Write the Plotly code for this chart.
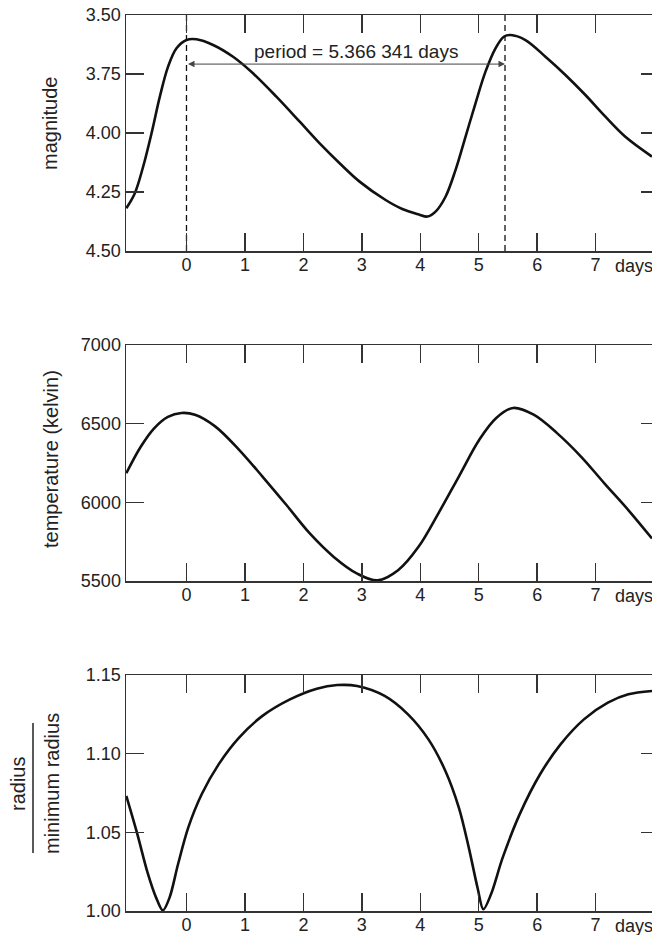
import plotly.graph_objects as go

# ---------------- data ----------------
MAG_DAYS = [-1.03, -0.884, -0.742, -0.598, -0.456, -0.315, -0.171, 0.0, 0.171, 0.455,
            0.797, 1.138, 1.538, 1.937, 2.279, 2.620, 2.962, 3.407, 3.692, 3.976,
            4.12, 4.262, 4.432, 4.603, 4.774, 4.945, 5.116, 5.287, 5.43, 5.544,
            5.80, 6.142, 6.484, 6.826, 7.168, 7.509, 7.965]
MAG_VALUES = [4.319, 4.255, 4.143, 4.001, 3.846, 3.719, 3.641, 3.606, 3.603, 3.627,
              3.677, 3.747, 3.846, 3.952, 4.044, 4.128, 4.206, 4.284, 4.322, 4.345,
              4.354, 4.333, 4.270, 4.157, 4.016, 3.874, 3.740, 3.641, 3.592, 3.585,
              3.606, 3.677, 3.754, 3.839, 3.931, 4.016, 4.100]

TEMP_DAYS = [-1.03, -0.78, -0.55, -0.318, -0.087, 0.145, 0.49, 0.90, 1.30, 1.71,
             2.11, 2.52, 2.92, 3.27, 3.62, 3.97, 4.31, 4.66, 5.01, 5.30,
             5.59, 5.94, 6.34, 6.75, 7.15, 7.56, 7.965]
TEMP_VALUES = [6185, 6355, 6472, 6543, 6568, 6557, 6483, 6334, 6164, 5983,
               5802, 5653, 5547, 5504, 5568, 5717, 5930, 6164, 6398, 6536,
               6600, 6557, 6440, 6291, 6121, 5951, 5770]

RAD_DAYS = [-1.03, -0.84, -0.666, -0.52, -0.405, -0.29, -0.145, 0.03, 0.26, 0.55,
            0.90, 1.30, 1.77, 2.23, 2.58, 2.92, 3.39, 3.79, 4.14, 4.43,
            4.66, 4.83, 4.98, 5.08, 5.21, 5.41, 5.70, 6.05, 6.40, 6.80,
            7.21, 7.56, 7.965]
RAD_VALUES = [1.0731, 1.0487, 1.0244, 1.0085, 1.0004, 1.0085, 1.0297, 1.053, 1.0742, 1.0932,
              1.1102, 1.124, 1.1345, 1.1413, 1.1436, 1.143, 1.1367, 1.125, 1.1091, 1.089,
              1.0657, 1.0403, 1.0148, 1.0011, 1.0106, 1.0339, 1.0614, 1.0869, 1.1059, 1.1218,
              1.1324, 1.1377, 1.1398]

DAY_TICKS = [0, 1, 2, 3, 4, 5, 6, 7]
DAY_TICK_LABELS = ["0", "1", "2", "3", "4", "5", "6", "7"]
DAY_RANGE = [-1.035, 7.965]

MAG_TICKS = [3.50, 3.75, 4.00, 4.25, 4.50]
MAG_TICK_LABELS = ["3.50", "3.75", "4.00", "4.25", "4.50"]
TEMP_TICKS = [5500, 6000, 6500, 7000]
TEMP_TICK_LABELS = ["5500", "6000", "6500", "7000"]
RAD_TICKS = [1.00, 1.05, 1.10, 1.15]
RAD_TICK_LABELS = ["1.00", "1.05", "1.10", "1.15"]

PERIOD_MARKS = [0.0, 5.45]
PERIOD_ARROW_LEVEL = 3.708
PERIOD_LABEL = "period = 5.366 341 days"

# ---------------- styling ----------------
FONT = "Liberation Sans, Arial, Helvetica, sans-serif"
TXT = "#222222"
AX = "#333333"
CURVE = "#111111"

W, H = 652, 935
ML, MR, MT, MB = 126, 0, 15, 24
PH = H - MT - MB
PANEL = 236
GAP = 94

def dom(i):
    top = MT + i * (PANEL + GAP)
    bot = top + PANEL
    return [(H - MB - bot) / PH, (H - MB - top) / PH]

fig = go.Figure()

fig.add_trace(go.Scatter(x=MAG_DAYS, y=MAG_VALUES, mode="lines",
                         line=dict(color=CURVE, width=2.6, shape="spline", smoothing=1.0),
                         xaxis="x", yaxis="y", hoverinfo="skip"))
for d in PERIOD_MARKS:
    fig.add_trace(go.Scatter(x=[d, d], y=[MAG_TICKS[0], MAG_TICKS[-1]], mode="lines",
                             line=dict(color=CURVE, width=1.3, dash="6px,4px"),
                             xaxis="x", yaxis="y", hoverinfo="skip"))
fig.add_trace(go.Scatter(x=TEMP_DAYS, y=TEMP_VALUES, mode="lines",
                         line=dict(color=CURVE, width=2.6, shape="spline", smoothing=1.0),
                         xaxis="x2", yaxis="y2", hoverinfo="skip"))
fig.add_trace(go.Scatter(x=RAD_DAYS, y=RAD_VALUES, mode="lines",
                         line=dict(color=CURVE, width=2.6, shape="spline", smoothing=0.9),
                         xaxis="x3", yaxis="y3", hoverinfo="skip"))

# invisible traces to activate right-hand tick axes
for ya, xa, yv in (("y4", "x", MAG_TICKS[0]), ("y5", "x2", TEMP_TICKS[0]), ("y6", "x3", RAD_TICKS[0])):
    fig.add_trace(go.Scatter(x=[DAY_TICKS[0]], y=[yv], mode="markers", marker=dict(opacity=0),
                             xaxis=xa, yaxis=ya, hoverinfo="skip"))

xcommon = dict(range=DAY_RANGE, tickvals=DAY_TICKS, ticktext=DAY_TICK_LABELS,
               ticks="inside", ticklen=18, tickwidth=1.5, tickcolor=AX,
               showline=True, linecolor=AX, linewidth=1.5, mirror="ticks",
               showgrid=False, zeroline=False, ticklabelstandoff=-3,
               tickfont=dict(family=FONT, size=18, color=TXT))
ycommon = dict(ticks="inside", ticklen=18, tickwidth=1.5, tickcolor=AX,
               showline=True, linecolor=AX, linewidth=1.5,
               showgrid=False, zeroline=False,
               tickfont=dict(family=FONT, size=18, color=TXT))
yright = dict(side="right", ticks="inside", ticklen=11, tickwidth=1.5, tickcolor=AX,
              showline=False, showticklabels=False, showgrid=False, zeroline=False)

fig.update_layout(
    width=W, height=H,
    margin=dict(l=ML, r=MR, t=MT, b=MB, pad=0),
    paper_bgcolor="white", plot_bgcolor="white",
    showlegend=False,
    font=dict(family=FONT, color=TXT),
    xaxis=dict(anchor="y", domain=[0, 1], **xcommon),
    xaxis2=dict(anchor="y2", domain=[0, 1], **xcommon),
    xaxis3=dict(anchor="y3", domain=[0, 1], **xcommon),
    yaxis=dict(anchor="x", domain=dom(0), range=[MAG_TICKS[-1], MAG_TICKS[0]],
               tickvals=MAG_TICKS, ticktext=MAG_TICK_LABELS, **ycommon),
    yaxis2=dict(anchor="x2", domain=dom(1), range=[TEMP_TICKS[0], TEMP_TICKS[-1]],
                tickvals=TEMP_TICKS, ticktext=TEMP_TICK_LABELS, **ycommon),
    yaxis3=dict(anchor="x3", domain=dom(2), range=[RAD_TICKS[0], RAD_TICKS[-1]],
                tickvals=RAD_TICKS, ticktext=RAD_TICK_LABELS, **ycommon),
    yaxis4=dict(overlaying="y", anchor="x", range=[MAG_TICKS[-1], MAG_TICKS[0]],
                tickvals=MAG_TICKS, **yright),
    yaxis5=dict(overlaying="y2", anchor="x2", range=[TEMP_TICKS[0], TEMP_TICKS[-1]],
                tickvals=TEMP_TICKS, **yright),
    yaxis6=dict(overlaying="y3", anchor="x3", range=[RAD_TICKS[0], RAD_TICKS[-1]],
                tickvals=RAD_TICKS, **yright),
)

def pcy(py):
    return (H - MB - py) / PH

TITLE_FONT = dict(size=20, color=TXT, family=FONT)
ann = []
# y-axis titles
for text, xs, py in (("magnitude", -76, 124), ("temperature (kelvin)", -75, 459),
                     ("radius", -108, 784), ("minimum radius", -74, 784)):
    ann.append(dict(text=text, xref="paper", yref="paper", x=0, xshift=xs, y=pcy(py),
                    xanchor="center", yanchor="middle",
                    textangle=-90, showarrow=False, font=TITLE_FONT))
# "days" unit labels
for xr, yr in (("x", "y"), ("x2", "y2"), ("x3", "y3")):
    ann.append(dict(text="days", xref=xr, yref=yr + " domain", x=7.29, y=0, xanchor="left",
                    yanchor="top", yshift=-3, showarrow=False,
                    font=dict(size=18, color=TXT, family=FONT)))
# period label and arrow
ann.append(dict(text=PERIOD_LABEL, xref="x", yref="y", x=2.90, y=3.653, showarrow=False,
                xanchor="center", yanchor="middle",
                font=dict(size=19, color=TXT, family=FONT)))
ann.append(dict(text="", xref="x", yref="y", axref="x", ayref="y",
                x=PERIOD_MARKS[1], y=PERIOD_ARROW_LEVEL, ax=PERIOD_MARKS[0], ay=PERIOD_ARROW_LEVEL,
                showarrow=True, arrowhead=2, startarrowhead=2, arrowside="end+start",
                arrowsize=1.3, startarrowsize=1.3, arrowwidth=1, arrowcolor="#444444",
                standoff=0, startstandoff=0))
fig.update_layout(annotations=ann)

# fraction bar of the radius axis title
fig.add_shape(type="line", xref="paper", yref="paper",
              x0=(33 - ML) / (W - ML - MR), x1=(33 - ML) / (W - ML - MR),
              y0=pcy(723), y1=pcy(853), line=dict(color=TXT, width=1.5))

fig.write_html("out.html",
               config={"displayModeBar": False, "staticPlot": True},
               post_script="document.body.style.margin='0';document.body.style.padding='0';"
                           "document.body.style.overflow='hidden';")
